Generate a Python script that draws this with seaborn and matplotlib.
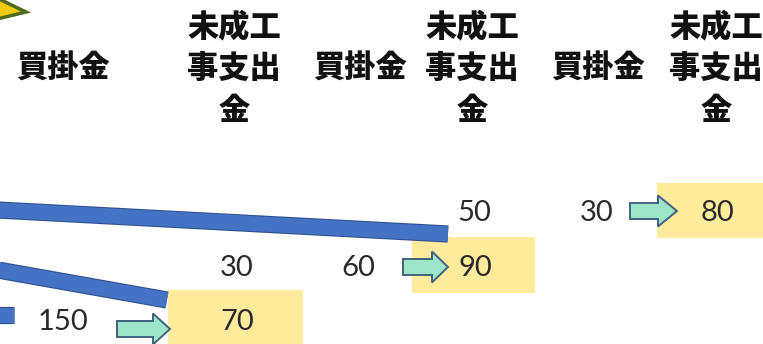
import matplotlib
matplotlib.use("Agg")
import matplotlib.pyplot as plt
import matplotlib.patches as mpatches
import matplotlib.patheffects as pe
import seaborn as sns
import pandas as pd

# ---------------- data ----------------
header_labels = ["買掛金", "未成工\n事支出\n金", "買掛金", "未成工\n事支出\n金", "買掛金", "未成工\n事支出\n金"]
value_labels = ["50", "30", "80", "30", "60", "90", "150", "70"]
value_boxed = [False, False, True, False, False, True, False, True]

# ---------------- layout (pixel space) ----------------
W, H = 763, 344
header_x = [63, 234, 360, 472, 598, 716]
header_line_y = [27, 68, 110]
value_x = [474, 597, 717, 237, 358, 475, 63, 237]
value_y = [213, 213, 213, 268, 268, 268, 322, 322]
box_geom = [(657, 183, 125, 55), (412, 237, 123, 56), (168, 290, 135, 56)]
arrow_geom = [(630, 211, 47, 19), (403, 267, 45, 16), (117, 329, 53, 17)]
band_x = [-2, 448, -2, 167, -6, 14]
band_y = [210, 234, 270, 300, 315, 315]
band_id = [0, 0, 1, 1, 2, 2]

sns.set_theme(style="white")
plt.rcParams["font.family"] = ["Noto Sans CJK JP", "DejaVu Sans"]

fig = plt.figure(figsize=(W / 100, H / 100), dpi=100)
ax = fig.add_axes([0, 0, 1, 1])

# yellow boxes
for (bx, by, bw, bh) in box_geom:
    ax.add_patch(mpatches.Rectangle((bx, by), bw, bh, facecolor="#FFEB9C",
                                    edgecolor="none", zorder=1))

# blue bands
bands = pd.DataFrame({"x": band_x, "y": band_y, "band": band_id})
px = 100 / 72
sns.lineplot(data=bands, x="x", y="y", units="band", estimator=None, sort=False,
             color="#4472C4", linewidth=15 / px, solid_capstyle="butt", ax=ax,
             zorder=3, legend=False,
             path_effects=[pe.Stroke(linewidth=15 / px + 1.6, foreground="#2F528F",
                                     capstyle="butt"), pe.Normal()])
ax.set_xlim(0, W)
ax.set_ylim(H, 0)
ax.axis("off")

# block arrows
for (ax0, ay, alen, hl) in arrow_geom:
    ax.add_patch(mpatches.FancyArrow(ax0, ay, alen, 0, width=16, head_width=31,
                                     head_length=hl, length_includes_head=True,
                                     facecolor="#9DE5C9", edgecolor="#41627E",
                                     linewidth=1.4, zorder=4))

# triangle (partial arrow head at top-left)
ax.add_patch(mpatches.Polygon([(-3, -2), (26, 12), (-3, 19)], closed=True,
                              facecolor="#F2CB0E", edgecolor="#4F6B1A",
                              linewidth=2.5, zorder=4))

# headers
for hx, lab in zip(header_x, header_labels):
    lines = lab.split("\n")
    if len(lines) == 1:
        ys = [header_line_y[1]]
    else:
        ys = header_line_y[:len(lines)]
    for ly, line in zip(ys, lines):
        ax.text(hx, ly, line, ha="center", va="center", fontsize=22.5,
                fontweight="heavy", color="#111111", zorder=5)

# values
for vx, vy, lab in zip(value_x, value_y, value_labels):
    ax.text(vx, vy, lab, ha="center", va="center", fontsize=21,
            family=["Lato", "DejaVu Sans"], color="#2a2a2a", zorder=5)

fig.savefig("out.png", dpi=100)
